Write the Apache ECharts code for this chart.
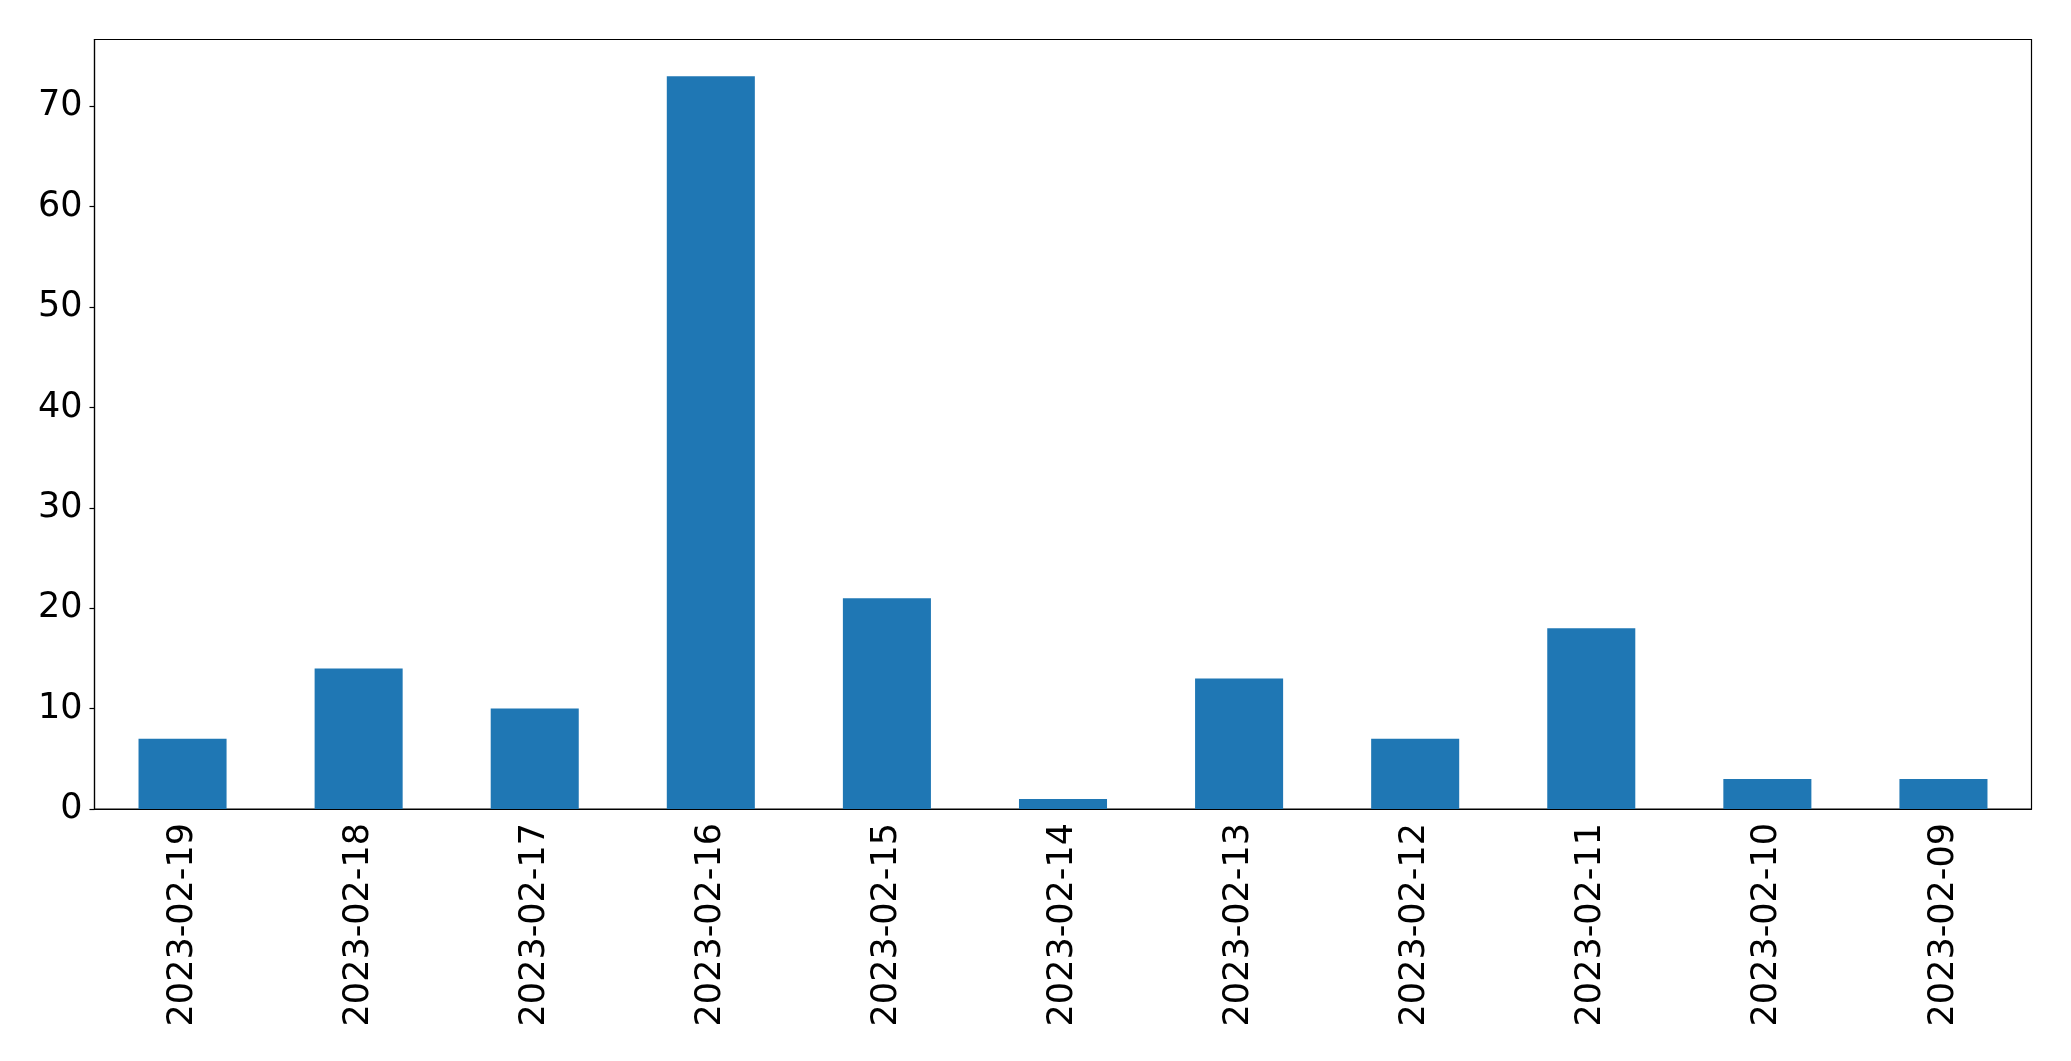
<!DOCTYPE html>
<html><head><meta charset="utf-8">
<script src="https://cdn.jsdelivr.net/npm/echarts@6/dist/echarts.min.js"></script>
<style>html,body{margin:0;padding:0;background:#fff}#c{width:2071px;height:1061px}</style>
</head><body><div id="c"></div>
<script>
const categories = ["2023-02-19","2023-02-18","2023-02-17","2023-02-16","2023-02-15","2023-02-14","2023-02-13","2023-02-12","2023-02-11","2023-02-10","2023-02-09"];
const values = [7, 14, 10, 73, 21, 1, 13, 7, 18, 3, 3];
const yTicks = [0, 10, 20, 30, 40, 50, 60, 70];
const yMax = Math.max(...values) * 1.05;

const chart = echarts.init(document.getElementById('c'), null, {renderer: 'canvas'});
const font = 'DejaVu Sans';
chart.setOption({
  animation: false,
  backgroundColor: '#fff',
  grid: {left: 94.5, right: 39.5, top: 39.5, bottom: 252, show: true, borderColor: '#000', borderWidth: 1.2, backgroundColor: 'transparent'},
  xAxis: {
    type: 'category', data: categories, boundaryGap: true,
    axisLine: {lineStyle: {color: '#000', width: 1.2}},
    axisTick: {alignWithLabel: true, length: 5, lineStyle: {color: '#000', width: 1.2}},
    axisLabel: {rotate: 90, interval: 0, margin: 14, color: '#000', fontFamily: font, fontSize: 35}
  },
  yAxis: {
    type: 'value', min: 0, max: yMax, interval: 10,
    splitLine: {show: false},
    axisLine: {show: true, lineStyle: {color: '#000', width: 1.2}},
    axisTick: {show: true, length: 5, customValues: yTicks, lineStyle: {color: '#000', width: 1.2}},
    axisLabel: {margin: 12, color: '#000', fontFamily: font, fontSize: 35, customValues: yTicks}
  },
  series: [{type: 'bar', data: values, barWidth: '50%', itemStyle: {color: '#1f77b4'}}]
});
</script></body></html>
